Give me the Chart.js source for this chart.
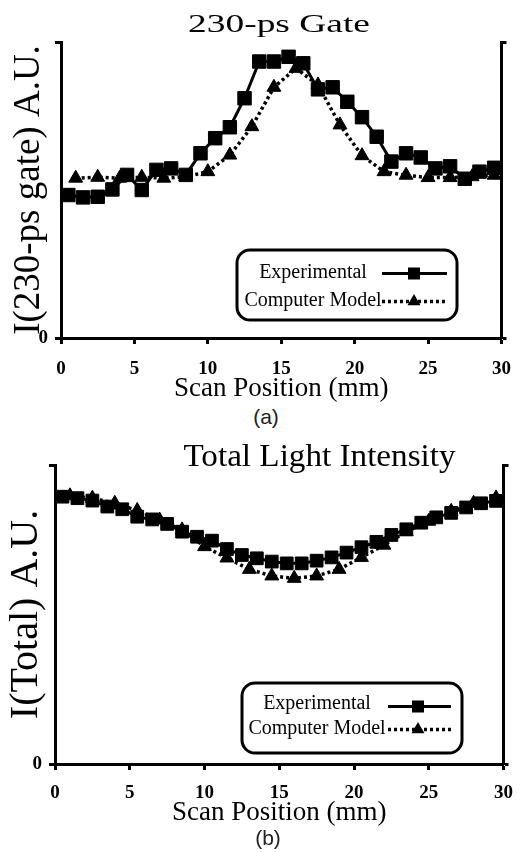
<!DOCTYPE html>
<html><head><meta charset="utf-8">
<script src="https://cdn.jsdelivr.net/npm/chart.js@4.4.1/dist/chart.umd.min.js"></script>
<style>
html,body{margin:0;padding:0;background:#fff;}
#page{position:relative;width:525px;height:852px;overflow:hidden;background:#fff;}
canvas{position:absolute;left:0;}
.cap{position:absolute;font-family:"Liberation Sans",Arial,sans-serif;font-size:21px;line-height:24px;color:#222;width:60px;text-align:center;}
</style></head><body>
<div id="page">
<canvas id="c1" width="525" height="405" style="top:0px"></canvas>
<div class="cap" style="left:236px;top:405px">(a)</div>
<canvas id="c2" width="525" height="400" style="top:430px"></canvas>
<div class="cap" style="left:238px;top:826px">(b)</div>
</div>
<script>
// ---------- data ----------
const seriesNames = ['Experimental', 'Computer Model'];
const xTicks = [0, 5, 10, 15, 20, 25, 30];
const expX = [0.5,1.5,2.5,3.5,4.5,5.5,6.5,7.5,8.5,9.5,10.5,11.5,12.5,13.5,14.5,15.5,16.5,17.5,18.5,19.5,20.5,21.5,22.5,23.5,24.5,25.5,26.5,27.5,28.5,29.5];
const modelX = [1,2.5,4,5.5,7,8.5,10,11.5,13,14.5,16,17.5,19,20.5,22,23.5,25,26.5,28,29.5];
const gateExp = [0.483,0.475,0.477,0.502,0.551,0.500,0.568,0.573,0.551,0.624,0.675,0.712,0.810,0.934,0.934,0.950,0.928,0.840,0.847,0.798,0.746,0.680,0.596,0.624,0.610,0.573,0.580,0.538,0.562,0.575];
const gateModel = [0.540,0.543,0.540,0.543,0.540,0.545,0.562,0.618,0.714,0.847,0.911,0.855,0.720,0.616,0.562,0.550,0.542,0.542,0.545,0.550];
const totalExp = [0.894,0.889,0.881,0.861,0.852,0.827,0.818,0.803,0.777,0.760,0.747,0.719,0.699,0.688,0.677,0.671,0.671,0.680,0.691,0.707,0.725,0.743,0.766,0.785,0.807,0.825,0.840,0.858,0.872,0.880];
const totalModel = [0.897,0.889,0.872,0.848,0.816,0.783,0.727,0.689,0.651,0.629,0.621,0.629,0.651,0.691,0.732,0.777,0.812,0.845,0.872,0.890];
const panelTitles = ['230-ps Gate', 'Total Light Intensity'];
const yTitles = ['I(230-ps gate) A.U.', 'I(Total) A.U.'];
const xTitle = 'Scan Position (mm)';

// ---------- helpers ----------
const SERIF = '"Liberation Serif", "Times New Roman", serif';
const pts = (xs, ys) => xs.map((x, i) => ({x: x, y: ys[i]}));

const panelTextPlugin = {
  id: 'panelText',
  afterDraw(chart, args, o) {
    const ctx = chart.ctx;
    ctx.save();
    ctx.fillStyle = '#000';
    ctx.font = o.size + 'px ' + SERIF;
    ctx.textAlign = 'center';
    ctx.textBaseline = 'alphabetic';
    ctx.translate(o.x, o.y);
    ctx.scale(o.stretch, 1);
    ctx.fillText(o.text, 0, 0);
    ctx.restore();
  }
};

function drawMarker(ctx, style, x, y, r) {
  ctx.beginPath();
  if (style === 'rect') {
    const s = r * Math.SQRT1_2;
    ctx.rect(x - s, y - s, 2 * s, 2 * s);
  } else {
    ctx.moveTo(x, y - r);
    ctx.lineTo(x + r * Math.sin(2 * Math.PI / 3), y - r * Math.cos(2 * Math.PI / 3));
    ctx.lineTo(x + r * Math.sin(4 * Math.PI / 3), y - r * Math.cos(4 * Math.PI / 3));
    ctx.closePath();
  }
  ctx.fill();
}

const boxLegendPlugin = {
  id: 'boxLegend',
  afterDraw(chart, args, o) {
    const ctx = chart.ctx;
    ctx.save();
    const [bx, by, bw, bh] = o.box, r = o.radius;
    ctx.lineWidth = 3;
    ctx.strokeStyle = '#000';
    ctx.beginPath();
    ctx.moveTo(bx + r, by);
    ctx.lineTo(bx + bw - r, by);
    ctx.arcTo(bx + bw, by, bx + bw, by + r, r);
    ctx.lineTo(bx + bw, by + bh - r);
    ctx.arcTo(bx + bw, by + bh, bx + bw - r, by + bh, r);
    ctx.lineTo(bx + r, by + bh);
    ctx.arcTo(bx, by + bh, bx, by + bh - r, r);
    ctx.lineTo(bx, by + r);
    ctx.arcTo(bx, by, bx + r, by, r);
    ctx.closePath();
    ctx.stroke();
    chart.data.datasets.forEach((ds, i) => {
      ctx.fillStyle = '#000';
      ctx.font = o.fontSize + 'px ' + SERIF;
      ctx.textAlign = 'center';
      ctx.textBaseline = 'middle';
      ctx.fillText(ds.label, o.textX, o.textY[i]);
      ctx.beginPath();
      ctx.setLineDash(ds.borderDash || []);
      ctx.lineWidth = ds.borderWidth;
      ctx.moveTo(o.lineX[0], o.lineY[i]);
      ctx.lineTo(o.lineX[1], o.lineY[i]);
      ctx.stroke();
      ctx.setLineDash([]);
      drawMarker(ctx, ds.pointStyle, o.markX, o.lineY[i], o.markR[i]);
    });
    ctx.restore();
  }
};

function makeChart(id, cfg) {
  const tickFont = {family: SERIF, size: 19, weight: 'bold'};
  return new Chart(document.getElementById(id), {
    type: 'scatter',
    data: {
      datasets: [
        {label: seriesNames[0], data: pts(expX, cfg.exp), showLine: true, borderColor: '#000', backgroundColor: '#000',
         borderWidth: 3, pointStyle: 'rect', pointRadius: cfg.sqR, pointHoverRadius: cfg.sqR,
         pointBackgroundColor: '#000', pointBorderColor: '#000', pointBorderWidth: 1, tension: 0},
        {label: seriesNames[1], data: pts(modelX, cfg.model), showLine: true, borderColor: '#000', backgroundColor: '#000',
         borderWidth: 3.5, borderDash: [3, 3], pointStyle: 'triangle', pointRadius: cfg.triR, pointHoverRadius: cfg.triR,
         pointBackgroundColor: '#000', pointBorderColor: '#000', pointBorderWidth: 1, tension: 0}
      ]
    },
    options: {
      responsive: false,
      animation: false,
      devicePixelRatio: 1,
      layout: {padding: {top: cfg.padTop, left: 0, right: 0, bottom: 0}},
      plugins: {
        legend: {display: false},
        tooltip: {enabled: false},
        title: {display: false},
        panelText: cfg.title,
        boxLegend: cfg.legend
      },
      scales: {
        x: {
          type: 'linear', position: 'bottom', min: 0, max: 30,
          afterBuildTicks(s) { s.ticks = xTicks.map(v => ({value: v})); },
          ticks: {color: '#000', font: tickFont, padding: cfg.xTickPad, maxRotation: 0, autoSkip: false},
          grid: {drawOnChartArea: false, drawTicks: true, tickLength: 6, tickWidth: 3, color: '#000'},
          border: {display: true, color: '#000', width: 3},
          title: {display: true, text: xTitle, color: '#000', font: {family: SERIF, size: 27}, padding: {top: 0, bottom: cfg.xTitlePad}},
          afterFit(s) { s.height = cfg.xH; }
        },
        y: {
          type: 'linear', position: 'left', min: 0, max: 1,
          ticks: {stepSize: 1, color: '#000', font: tickFont, padding: 7, callback: v => (v === 0 ? '0' : '')},
          grid: {drawOnChartArea: false, drawTicks: true, tickLength: 6, tickWidth: 3, color: '#000'},
          border: {display: true, color: '#000', width: 3},
          title: {display: true, text: cfg.yTitle, color: '#000', font: {family: SERIF, size: cfg.yTitleSize}, padding: {top: cfg.yTitlePad, bottom: 0}},
          afterFit(s) { s.width = cfg.yW; }
        },
        y2: {
          type: 'linear', position: 'right', min: 0, max: 1,
          ticks: {display: false, stepSize: 1},
          grid: {drawOnChartArea: false, drawTicks: true, tickLength: 5, tickWidth: 3, color: '#000'},
          border: {display: true, color: '#000', width: 3},
          afterFit(s) { s.width = cfg.y2W; }
        }
      }
    },
    plugins: [panelTextPlugin, boxLegendPlugin]
  });
}

makeChart('c1', {
  exp: gateExp, model: gateModel, sqR: 9.5, triR: 8,
  padTop: 42, xH: 67, yW: 61, y2W: 11, xTickPad: 14, xTitlePad: 0,
  yTitle: yTitles[0], yTitleSize: 37, yTitlePad: 7,
  title: {text: panelTitles[0], x: 279, y: 31.5, size: 26, stretch: 1.44},
  legend: {box: [237, 250, 220, 70], radius: 13, fontSize: 20, textX: 313, textY: [273, 300.5],
           lineX: [382, 447], lineY: [273.5, 301.5], markX: 414, markR: [8.5, 7.5]}
});

makeChart('c2', {
  exp: totalExp, model: totalModel, sqR: 9, triR: 8,
  padTop: 35, xH: 66, yW: 55, y2W: 16, xTickPad: 12, xTitlePad: 1,
  yTitle: yTitles[1], yTitleSize: 40, yTitlePad: 2.5,
  title: {text: panelTitles[1], x: 319.5, y: 36, size: 31, stretch: 1.07},
  legend: {box: [242, 253, 220, 70], radius: 13, fontSize: 20, textX: 317, textY: [274, 299],
           lineX: [388, 451], lineY: [276.5, 299.5], markX: 418, markR: [8.5, 7.5]}
});
</script>
</body></html>
